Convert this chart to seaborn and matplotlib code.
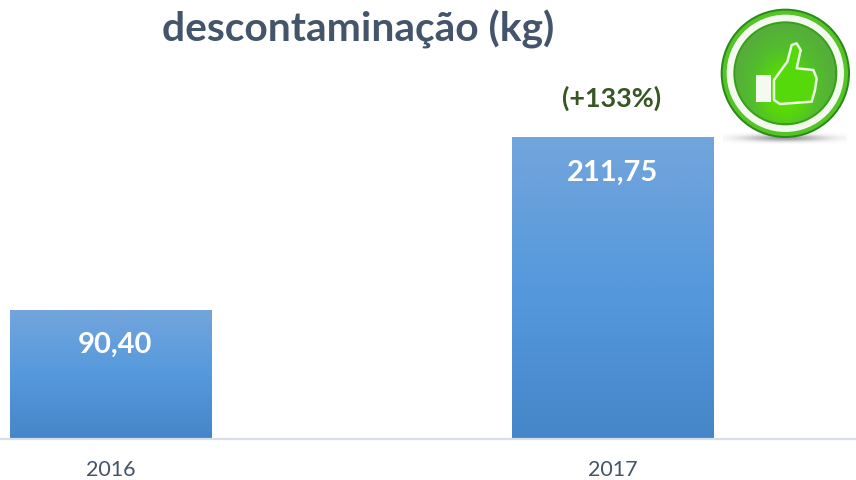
import numpy as np
import pandas as pd
import matplotlib
matplotlib.use("Agg")
import matplotlib.pyplot as plt
from matplotlib.colors import LinearSegmentedColormap
from matplotlib.patches import Circle, Polygon, Rectangle
import seaborn as sns

# Data
years = ["2016", "2017"]
values = [90.40, 211.75]
value_labels = ["90,40", "211,75"]
change_label = "(+133%)"
title_text = "descontaminação (kg)"

sns.set_theme(style="white")
plt.rcParams["font.family"] = ["Lato", "DejaVu Sans"]

W, H = 856, 480
fig = plt.figure(figsize=(W / 100, H / 100), dpi=100, facecolor="white")
base_px = 439
ylim_top = 308.5
ax = fig.add_axes([0, (H - base_px) / H, 1, base_px / H])
ax.patch.set_alpha(0)

df = pd.DataFrame({"year": years, "value": values})
sns.barplot(data=df, x="year", y="value", ax=ax, width=0.402, color="#5599DC", saturation=1)

ax.set_xlim(-0.2213, 1.4856)
ax.set_ylim(0, ylim_top)
ax.set_xlabel("")
ax.set_ylabel("")
ax.set_yticks([])
ax.tick_params(axis="x", length=0, pad=15, labelsize=15.5, labelcolor="#44546A")
for s in ["top", "left", "right"]:
    ax.spines[s].set_visible(False)
ax.spines["bottom"].set_color("#D9DEE6")
ax.spines["bottom"].set_linewidth(1.6)
ax.spines["bottom"].set_zorder(5)

# gradient fill
cmap = LinearSegmentedColormap.from_list("bar", ["#4586C8", "#5599DC", "#73A5DC"])
grad = np.linspace(0, 1, 256).reshape(-1, 1)
for bar in ax.patches:
    x0, w, h = bar.get_x(), bar.get_width(), bar.get_height()
    bar.set_visible(False)
    ax.imshow(grad, origin="lower", cmap=cmap, aspect="auto",
              extent=(x0, x0 + w, 0, h), zorder=2, interpolation="bilinear")
ax.set_xlim(-0.2213, 1.4856)
ax.set_ylim(0, ylim_top)

# data labels (offset from the bar top in points)
label_dx = [2.6, 0]
for i, (v, lab) in enumerate(zip(values, value_labels)):
    ax.annotate(lab, (i, v), xytext=(label_dx[i], -25), textcoords="offset points",
                ha="center", va="center", color="white", fontsize=21,
                fontweight="bold", zorder=6)
ax.annotate(change_label, (1, values[1]), xytext=(-1, 28.5), textcoords="offset points",
            ha="center", va="center", color="#375623", fontsize=19.4,
            fontweight="bold", annotation_clip=False)

fig.text(358 / W, 1 - 29 / H, title_text, ha="center", va="center",
         fontsize=29.3, fontweight="bold", color="#44546A")

# thumbs-up icon, in zoomed-crop pixel units
icon = fig.add_axes([700 / W, 1 - 160 / H, 156 / W, 160 / H])
icon.patch.set_alpha(0)
icon.axis("off")
cx, cy = 256, 220

# shadow
sh = np.exp(-((np.linspace(-1, 1, 300)) ** 2) * 2.5).reshape(1, -1) * np.ones((30, 1))
sh = sh * np.exp(-((np.linspace(-1, 1, 30)) ** 2) * 3).reshape(-1, 1)
shadow_cmap = LinearSegmentedColormap.from_list("s", ["#FFFFFF", "#9A9A9A"])
icon.imshow(sh, extent=(70, 440, 432, 396), cmap=shadow_cmap, aspect="auto", vmin=0, vmax=1, zorder=1)

icon.add_patch(Circle((cx, cy), 194, fc="#2A8A18", ec="none", zorder=2))
icon.add_patch(Circle((cx, cy), 188, fc="#55C426", ec="none", zorder=3))
icon.add_patch(Circle((cx, cy), 176, fc="#F4F9F0", ec="none", zorder=4))
icon.add_patch(Circle((cx, cy), 156, fc="#38A018", ec="none", zorder=5))

yy, xx = np.mgrid[0:1:300j, -1:1:300j]
r = np.sqrt(xx ** 2 + (yy - 0.68) ** 2 * 2.4)
disc_cmap = LinearSegmentedColormap.from_list(
    "disc", ["#5CE400", "#58D80A", "#52BE2C", "#55AE3A"])
disc = np.clip(r, 0, 1)
im = icon.imshow(disc, extent=(cx - 150, cx + 150, cy + 150, cy - 150),
                 cmap=disc_cmap, aspect="auto", zorder=6, interpolation="bilinear")
im.set_clip_path(Circle((cx, cy), 150, transform=icon.transData))

icon.add_patch(Rectangle((168, 225), 44, 82, fc="#F4FAF0", ec="none", zorder=8))
hand = [(222, 300), (222, 240), (262, 185), (275, 135), (290, 130), (302, 150),
        (290, 205), (340, 210), (350, 235), (345, 270), (335, 305), (240, 312)]
icon.add_patch(Polygon(hand, closed=True, fc="#55D90A", ec="#EAF8DF", lw=1.8,
                       joinstyle="round", zorder=8))
icon.set_xlim(0, 468)
icon.set_ylim(480, 0)

fig.savefig("out.png", dpi=100, facecolor="white")
